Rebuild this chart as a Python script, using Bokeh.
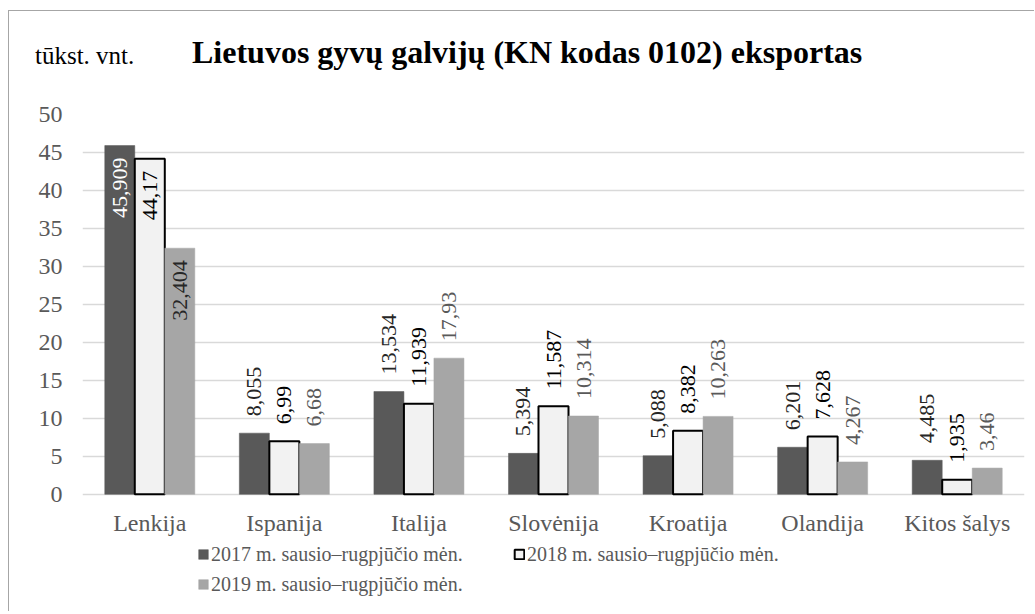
import numpy as np
from bokeh.plotting import figure
from bokeh.layouts import column
from bokeh.models import (ColumnDataSource, FactorRange, Range1d, Legend,
                          LegendItem, FixedTicker, Div)
from bokeh.transform import dodge
from bokeh.core.properties import value
from bokeh.embed import file_html
from bokeh.resources import INLINE

# ---- data ----
categories = ["Lenkija", "Ispanija", "Italija", "Slovėnija", "Kroatija", "Olandija", "Kitos šalys"]
series_names = ["2017 m. sausio–rugpjūčio mėn.",
                "2018 m. sausio–rugpjūčio mėn.",
                "2019 m. sausio–rugpjūčio mėn."]
v2017 = [45.909, 8.055, 13.534, 5.394, 5.088, 6.201, 4.485]
v2018 = [44.17, 6.99, 11.939, 11.587, 8.382, 7.628, 1.935]
v2019 = [32.404, 6.68, 17.93, 10.314, 10.263, 4.267, 3.46]
y_ticks = [0, 5, 10, 15, 20, 25, 30, 35, 40, 45, 50]
title_text = "Lietuvos gyvų galvijų (KN kodas 0102) eksportas"
unit_text = "tūkst. vnt."

FONT = "Liberation Serif"
W = 1025
HEAD_H = 83
H = 517

header = Div(
    text=(f'<div style="position:relative;width:{W}px;height:{HEAD_H}px;'
          f'font-family:\'{FONT}\';color:#000;">'
          f'<span style="position:absolute;left:26px;top:32px;font-size:25px;'
          f'line-height:25px;white-space:nowrap;">{unit_text}</span>'
          f'<span style="position:absolute;left:183px;top:25px;font-size:32px;'
          f'line-height:32px;font-weight:bold;white-space:nowrap;">{title_text}</span>'
          f'</div>'),
    width=W, height=HEAD_H, margin=(0, 0, 0, 0))

# frame extends below zero to host category labels and legend
p = figure(x_range=FactorRange(*categories, range_padding=0),
           y_range=Range1d(-14.5, 50),
           width=W, height=H, output_backend="svg", toolbar_location=None,
           min_border_left=73, min_border_right=10, min_border_top=20, min_border_bottom=7,
           margin=(0, 0, 0, 0))
p.outline_line_color = None
p.background_fill_color = "white"
p.border_fill_color = "white"

p.xgrid.grid_line_color = None
p.ygrid.grid_line_color = "#d9d9d9"
p.ygrid.grid_line_width = 1.3
p.yaxis.ticker = FixedTicker(ticks=y_ticks)
p.xaxis.visible = False

ax = p.yaxis
ax.axis_line_color = None
ax.major_tick_line_color = None
ax.minor_tick_line_color = None
ax.major_tick_out = 0
ax.major_tick_in = 0
ax.minor_tick_out = 0
ax.major_label_text_font = FONT
ax.major_label_text_color = "#595959"
ax.major_label_text_font_size = "24px"
ax.major_label_standoff = 20

# category labels under the bars
cat_src = ColumnDataSource(dict(cat=categories, y0=[0] * len(categories)))
p.text(x="cat", y="y0", text="cat", source=cat_src, text_align="center",
       text_baseline="top", y_offset=16, text_font=value(FONT),
       text_font_size="24px", text_color="#595959")

bw = 0.223
offsets = [-bw, 0.0, bw]
fills = ["#595959", "#f2f2f2", "#a6a6a6"]
lines = [None, "#000000", None]
label_colors_out = ["#262626", "#000000", "#595959"]
label_colors_in = ["#ffffff", "#000000", "#262626"]
series = [v2017, v2018, v2019]

renderers = []
for i, vals in enumerate(series):
    src = ColumnDataSource(dict(cat=categories, val=vals))
    r = p.vbar(x=dodge("cat", offsets[i], range=p.x_range), top="val", bottom=0, width=bw,
               source=src, fill_color=fills[i],
               line_color=lines[i] if lines[i] else fills[i],
               line_width=2 if lines[i] else 0.5)
    renderers.append(r)
    labs = [f"{v}".replace(".", ",") for v in vals]
    inside = [v > 30 for v in vals]
    out_src = ColumnDataSource(dict(
        cat=[c for c, f in zip(categories, inside) if not f],
        val=[v for v, f in zip(vals, inside) if not f],
        lab=[l for l, f in zip(labs, inside) if not f]))
    in_src = ColumnDataSource(dict(
        cat=[c for c, f in zip(categories, inside) if f],
        val=[v for v, f in zip(vals, inside) if f],
        lab=[l for l, f in zip(labs, inside) if f]))
    p.text(x=dodge("cat", offsets[i], range=p.x_range), y="val", text="lab", source=out_src,
           angle=np.pi / 2, text_align="left", text_baseline="middle", y_offset=-17,
           text_font=value(FONT), text_font_size="22px", text_color=label_colors_out[i])
    p.text(x=dodge("cat", offsets[i], range=p.x_range), y="val", text="lab", source=in_src,
           angle=np.pi / 2, text_align="right", text_baseline="middle", y_offset=12,
           text_font=value(FONT), text_font_size="22px", text_color=label_colors_in[i])

leg_common = dict(orientation="horizontal", padding=0, margin=0, spacing=0,
                  border_line_alpha=0, background_fill_alpha=0,
                  glyph_width=12, glyph_height=12, label_height=30, label_width=302,
                  label_standoff=2, label_text_font=FONT, label_text_font_size="20px",
                  label_text_color="#595959", label_text_baseline="middle")
leg1 = Legend(items=[LegendItem(label=series_names[0], renderers=[renderers[0]]),
                     LegendItem(label=series_names[1], renderers=[renderers[1]])],
              location=(115, 35), **leg_common)
leg2 = Legend(items=[LegendItem(label=series_names[2], renderers=[renderers[2]])],
              location=(115, 5), **leg_common)
p.add_layout(leg1)
p.add_layout(leg2)

layout = column(header, p, spacing=0,
                styles={"margin-left": "8px", "margin-top": "10px",
                        "border-left": "1px solid #a6a6a6", "border-top": "1px solid #a6a6a6"})

open("out.html", "w").write(file_html(layout, INLINE))
